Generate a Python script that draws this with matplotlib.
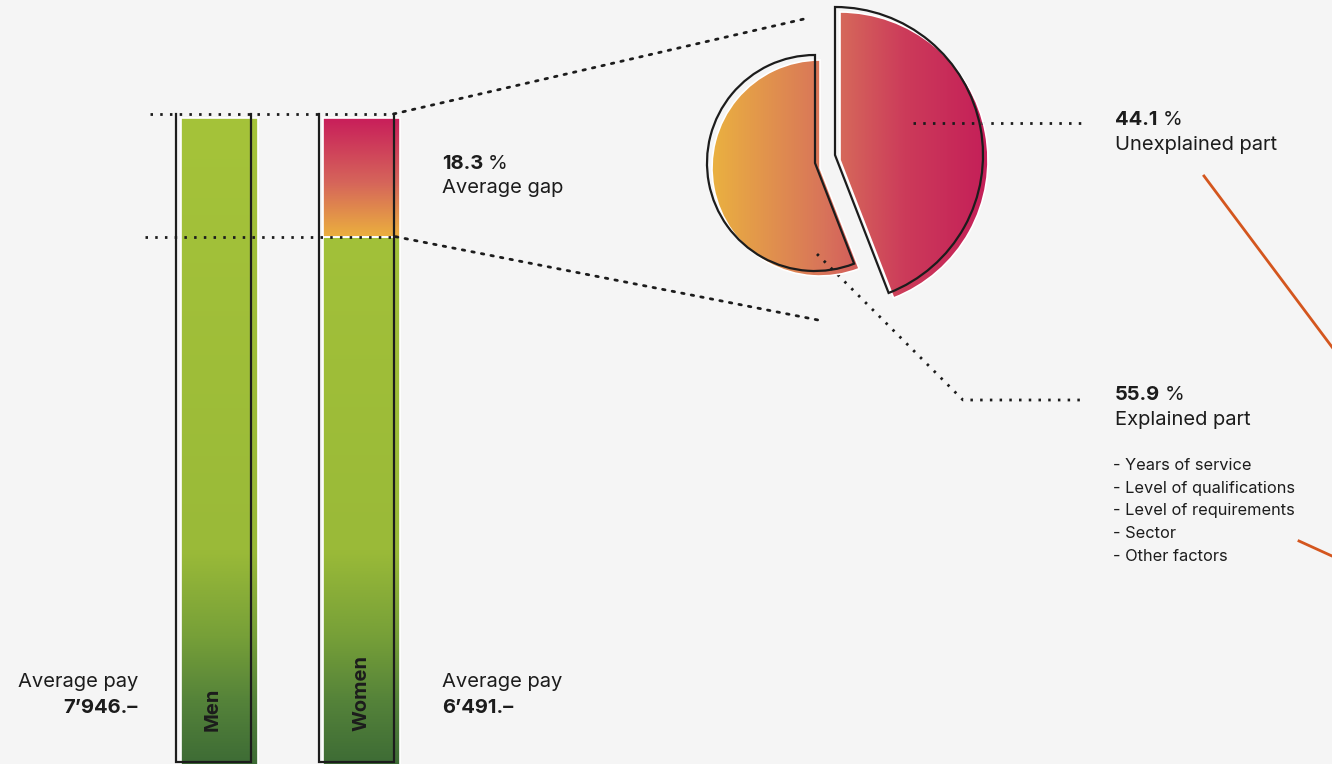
import numpy as np
import matplotlib
matplotlib.use('Agg')
import matplotlib.pyplot as plt
from matplotlib.patches import Wedge, ConnectionPatch
from matplotlib.colors import LinearSegmentedColormap
from matplotlib import transforms

# ---------------- data ----------------
groups = ["Men", "Women"]
avg_pay = [7946, 6491]
gap_pct = 18.3
part_names = ["Unexplained part", "Explained part"]
part_pct = [44.1, 55.9]
factors = ["Years of service", "Level of qualifications",
           "Level of requirements", "Sector", "Other factors"]

# ---------------- style ----------------
BG = '#f5f5f5'
INK = '#1c1c1c'
ORANGE_LINE = '#d4561e'
W, H = 1332, 764
plt.rcParams['font.family'] = ['Inter', 'DejaVu Sans']

fig = plt.figure(figsize=(W / 100, H / 100), dpi=100, facecolor=BG)

green_cmap = LinearSegmentedColormap.from_list(
    'g', [(0, '#3d6b35'), (0.1, '#55833a'), (0.2, '#77a038'), (0.33, '#9aba38'),
          (1, '#a5c33a')])
gap_cmap = LinearSegmentedColormap.from_list(
    'gap', [(0, '#ebb03e'), (0.45, '#d6665a'), (1, '#c81e5a')])
pie_cmap = LinearSegmentedColormap.from_list(
    'pie', [(0, '#ebb43f'), (0.42, '#d8735a'), (0.7, '#cc3b5a'), (1, '#c41e58')])

# ---------------- bar axes (x in px, y in pay) ----------------
P_TOP, P_ZERO = 114, 762
k = (P_ZERO - P_TOP) / max(avg_pay)
axb = fig.add_axes([0, 0, 1, 1])
axb.axis('off')

centers = [213.5, 356]
out_w = 75
fill_w = 77
off = transforms.offset_copy(axb.transData, fig=fig, x=5.5, y=-4, units='dots')
off_y = transforms.offset_copy(axb.transData, fig=fig, x=0, y=-4, units='dots')

vgrad = np.linspace(0, 1, 256).reshape(-1, 1)

def gradient_fill(patch, cmap, y0, y1, x0, x1):
    im = axb.imshow(vgrad, cmap=cmap, extent=[x0, x1, y0, y1], origin='lower',
                    aspect='auto', interpolation='bilinear', zorder=2)
    im.set_transform(off)
    im.set_clip_path(patch)

men_pay, women_pay = avg_pay
# men fill
bm = axb.bar(centers[0], men_pay, width=fill_w, color='none', edgecolor='white',
             linewidth=1.2, transform=off, zorder=3)[0]
gradient_fill(bm, green_cmap, 0, men_pay, centers[0] - 50, centers[0] + 50)
# women fill: green part + gap part
bw = axb.bar(centers[1], women_pay, width=fill_w, color='none', edgecolor='white',
             linewidth=1.2, transform=off, zorder=3)[0]
gradient_fill(bw, green_cmap, 0, men_pay, centers[1] - 50, centers[1] + 50)
bg_ = axb.bar(centers[1], men_pay - women_pay, bottom=women_pay, width=fill_w,
              color='none', edgecolor='white', linewidth=1.2, transform=off, zorder=3)[0]
gradient_fill(bg_, gap_cmap, women_pay, men_pay, centers[1] - 50, centers[1] + 50)

# outlines (open at the top)
for c in centers:
    x0, x1 = c - out_w / 2, c + out_w / 2
    axb.plot([x0, x0, x1, x1], [men_pay, 0, 0, men_pay], color=INK, lw=1.6,
             solid_joinstyle='miter', zorder=4)

dot = (0, (0.9, 2.6))
DLW = 2.0
axb.plot([150, centers[1] + out_w / 2], [men_pay, men_pay], color=INK, lw=DLW,
         ls=dot, zorder=5)
axb.plot([145, centers[1] + out_w / 2 + 2], [women_pay, women_pay], color=INK, lw=DLW,
         ls=dot, zorder=5, transform=off_y)

axb.set_xlim(0, W)
axb.set_ylim((P_ZERO - H) / k, P_ZERO / k)

# ---------------- pixel overlay axes ----------------
axp = fig.add_axes([0, 0, 1, 1])
axp.set_xlim(0, W)
axp.set_ylim(H, 0)
axp.axis('off')
axp.patch.set_alpha(0)

# connectors from bars to pie
con1 = ConnectionPatch(xyA=(centers[1] + out_w / 2, men_pay), coordsA=axb.transData,
                       xyB=(804, 19), coordsB=axp.transData, color=INK, lw=DLW, ls=dot)
con2 = ConnectionPatch(xyA=(centers[1] + out_w / 2 + 2, women_pay), coordsA=off_y,
                       xyB=(818, 320), coordsB=axp.transData, color=INK, lw=DLW, ls=dot)
axp.add_artist(con1)
axp.add_artist(con2)

# pie pieces (y axis inverted -> data angles are mirrored)
unexpl_deg = part_pct[0] / 100 * 360
pieces = [
    dict(center=(835, 155), r=148, t1=-90, t2=-90 + unexpl_deg),      # unexplained
    dict(center=(815, 163), r=108, t1=-90 + unexpl_deg, t2=270),      # explained
]
hgrad = np.linspace(0, 1, 256).reshape(1, -1)
for p in pieces:
    cx, cy = p['center']
    fill = Wedge((cx + 5, cy + 5), p['r'], p['t1'], p['t2'], facecolor='none',
                 edgecolor='white', lw=1.2, zorder=3)
    axp.add_patch(fill)
    im = axp.imshow(hgrad, cmap=pie_cmap, extent=[706, 990, 310, 0], origin='upper',
                    aspect='auto', interpolation='bilinear', zorder=2)
    im.set_clip_path(fill)
    axp.add_patch(Wedge((cx, cy), p['r'], p['t1'], p['t2'], facecolor='none',
                        edgecolor=INK, lw=1.6, zorder=4, joinstyle='miter'))
axp.set_xlim(0, W)
axp.set_ylim(H, 0)

# pie label connectors
axp.plot([913, 1082], [123, 123], color=INK, lw=DLW, ls=dot)
axp.plot([817, 963, 1083], [254, 400, 400], color=INK, lw=DLW, ls=dot)

# orange decorative lines (run off the right edge)
axp.plot([1204, 1404], [176, 176 + 200 * 1.336], color=ORANGE_LINE, lw=2)
axp.plot([1299, 1399], [541, 541 + 100 * 0.455], color=ORANGE_LINE, lw=2)

# ---------------- texts ----------------
FS = 14.5

def pct_label(x, y, value):
    t = axp.text(x, y, f"{value:.1f}", fontsize=FS, fontweight='bold', color=INK,
                 ha='left', va='baseline')
    axp.annotate("%", xy=(1, 0), xycoords=t, xytext=(3.5, 0), textcoords='offset points',
                 fontsize=FS, color=INK, ha='left', va='bottom')

pct_label(442, 169, gap_pct)
axp.text(442, 193, "Average gap", fontsize=FS, color=INK, va='baseline')

pct_label(1115, 125, part_pct[0])
axp.text(1115, 150, part_names[0], fontsize=FS, color=INK, va='baseline')
pct_label(1115, 400, part_pct[1])
axp.text(1115, 425, part_names[1], fontsize=FS, color=INK, va='baseline')
for i, f in enumerate(factors):
    axp.text(1113, 470 + i * 22.7, "- " + f, fontsize=11.8, color=INK, va='baseline')

def pay_str(v):
    return f"{v:,}".replace(",", "\u2019") + ".\u2013"

axp.text(138, 687, "Average pay", fontsize=FS, color=INK, ha='right', va='baseline')
axp.text(138, 713, pay_str(men_pay), fontsize=FS, fontweight='bold', color=INK,
         ha='right', va='baseline')
axp.text(442, 687, "Average pay", fontsize=FS, color=INK, ha='left', va='baseline')
axp.text(442, 713, pay_str(women_pay), fontsize=FS, fontweight='bold', color=INK,
         ha='left', va='baseline')

axp.text(centers[0] - 1, 731, groups[0], rotation=90, fontsize=FS, fontweight='bold',
         color=INK, ha='center', va='bottom')
axp.text(centers[1] + 6, 731, groups[1], rotation=90, fontsize=FS, fontweight='bold',
         color=INK, ha='center', va='bottom')

fig.savefig('out.png', dpi=100, facecolor=BG)
